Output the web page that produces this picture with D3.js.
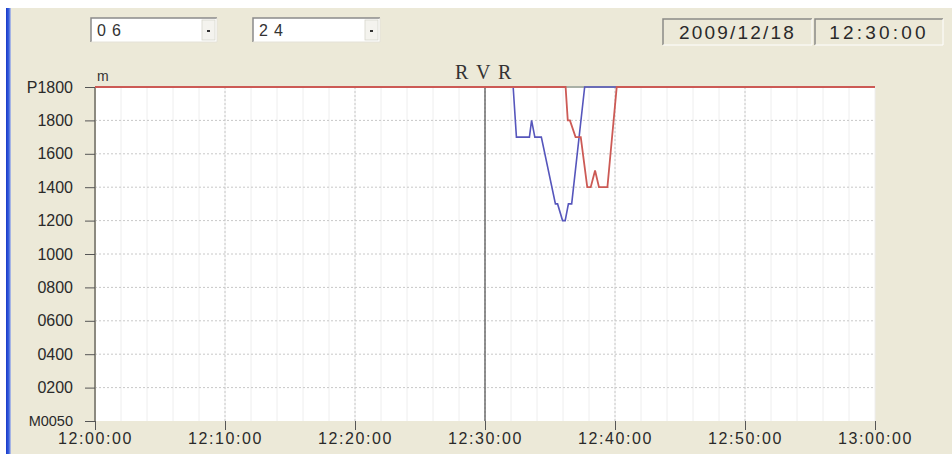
<!DOCTYPE html>
<html><head><meta charset="utf-8">
<script src="https://cdn.jsdelivr.net/npm/d3@7"></script>
<style>
html,body{margin:0;padding:0;background:#fff;}
svg{display:block;}
</style></head>
<body>
<svg id="chart" width="952" height="456"></svg>
<script>
// ---- data ----
const chartTitle = "R V R";
const unitLabel = "m";
const comboValues = ["06", "24"];
const dateText = "2009/12/18";
const clockText = "12:30:00";
const baseDate = "2009-12-18";
const markerTime = "12:30:00";

const yTickValues = [0, 200, 400, 600, 800, 1000, 1200, 1400, 1600, 1800, 2000];
const yTickLabels = ["M0050", "0200", "0400", "0600", "0800", "1000", "1200", "1400", "1600", "1800", "P1800"];
const xTickTimes = ["12:00:00", "12:10:00", "12:20:00", "12:30:00", "12:40:00", "12:50:00", "13:00:00"];
const xTickLabels = ["12:00:00", "12:10:00", "12:20:00", "12:30:00", "12:40:00", "12:50:00", "13:00:00"];

const blueTimes = ["12:00:00","12:32:10","12:32:25","12:33:25","12:33:35","12:33:50","12:34:20","12:35:25","12:35:35","12:35:58","12:36:10","12:36:25","12:36:40","12:37:40","13:00:00"];
const blueValues = [2000, 2000, 1700, 1700, 1800, 1700, 1700, 1300, 1300, 1200, 1200, 1300, 1300, 2000, 2000];

const redTimes = ["12:00:00","12:36:12","12:36:22","12:36:32","12:36:58","12:37:22","12:37:52","12:38:08","12:38:28","12:38:46","12:39:25","12:40:08","13:00:00"];
const redValues = [2000, 2000, 1800, 1800, 1700, 1700, 1400, 1400, 1500, 1400, 1400, 2000, 2000];

// ---- helpers ----
const parseT = t => new Date(baseDate + "T" + t);
const svg = d3.select("#chart");
const W = 952, H = 456;
const plot = {left: 95, right: 875, top: 87, bottom: 421};

const x = d3.scaleTime()
  .domain([parseT(xTickTimes[0]), parseT(xTickTimes[xTickTimes.length - 1])])
  .range([plot.left, plot.right]);
const y = d3.scaleLinear().domain([0, 2000]).range([plot.bottom, plot.top]);

// ---- frame ----
const defs = svg.append("defs");
const g1 = defs.append("linearGradient").attr("id", "edge").attr("x1", "0").attr("x2", "1");
g1.append("stop").attr("offset", "0").attr("stop-color", "#1737c8");
g1.append("stop").attr("offset", "0.6").attr("stop-color", "#3c64e0");
g1.append("stop").attr("offset", "1").attr("stop-color", "#c9cfe6");

svg.append("rect").attr("x", 0).attr("y", 0).attr("width", W).attr("height", H).attr("fill", "#ffffff");
svg.append("rect").attr("x", 7).attr("y", 8).attr("width", W - 7).attr("height", H - 10).attr("fill", "#ece9d8");
svg.append("rect").attr("x", 6).attr("y", 8).attr("width", 5).attr("height", H - 10).attr("fill", "url(#edge)");

// ---- header controls ----
function combo(x0, w, text) {
  const g = svg.append("g");
  g.append("rect").attr("x", x0).attr("y", 18).attr("width", w).attr("height", 24).attr("fill", "#ffffff");
  g.append("path").attr("d", `M${x0},42 V18 H${x0 + w}`).attr("fill", "none").attr("stroke", "#8a8a8a").attr("stroke-width", 1.5);
  g.append("path").attr("d", `M${x0 + w},18 V42 H${x0}`).attr("fill", "none").attr("stroke", "#e4e2d8").attr("stroke-width", 1);
  g.append("rect").attr("x", x0 + w - 15).attr("y", 20).attr("width", 13).attr("height", 20).attr("fill", "#f4f3ee").attr("stroke", "#d8d6cc").attr("stroke-width", 0.8);
  g.append("rect").attr("x", x0 + w - 10).attr("y", 30).attr("width", 3).attr("height", 2).attr("fill", "#333");
  g.append("text").attr("x", x0 + 6).attr("y", 36).attr("font-family", "Liberation Sans, Arial, sans-serif")
    .attr("font-size", 16).attr("letter-spacing", 6).attr("fill", "#333").text(text);
}
combo(91, 126, comboValues[0]);
combo(253, 127, comboValues[1]);

function infoBox(x0, w, text, ls) {
  const g = svg.append("g");
  g.append("rect").attr("x", x0).attr("y", 19).attr("width", w).attr("height", 26).attr("fill", "#ece9d8");
  g.append("path").attr("d", `M${x0},45 V19 H${x0 + w}`).attr("fill", "none").attr("stroke", "#8a8a86").attr("stroke-width", 1.5);
  g.append("path").attr("d", `M${x0 + w},19 V45 H${x0}`).attr("fill", "none").attr("stroke", "#ffffff").attr("stroke-width", 1);
  g.append("text").attr("x", x0 + w / 2).attr("y", 38.5).attr("text-anchor", "middle")
    .attr("font-family", "Liberation Sans, Arial, sans-serif").attr("font-size", 19)
    .attr("letter-spacing", ls).attr("fill", "#2a2a2a").text(text);
}
infoBox(663, 149, dateText, 2.2);
infoBox(815, 128, clockText, 3.2);

// ---- plot area ----
svg.append("rect").attr("x", plot.left).attr("y", plot.top).attr("width", plot.right - plot.left)
  .attr("height", plot.bottom - plot.top).attr("fill", "#ffffff");

// minor vertical grid every 2 minutes
const minorTicks = x.ticks(d3.timeMinute.every(2));
svg.append("g").selectAll("line").data(minorTicks).join("line")
  .attr("x1", d => x(d)).attr("x2", d => x(d)).attr("y1", plot.top).attr("y2", plot.bottom)
  .attr("stroke", "#eeeeee").attr("stroke-width", 1);

// major vertical grid
const majorTicks = xTickTimes.map(parseT);
svg.append("g").selectAll("line").data(majorTicks.slice(1, -1)).join("line")
  .attr("x1", d => x(d)).attr("x2", d => x(d)).attr("y1", plot.top).attr("y2", plot.bottom)
  .attr("stroke", "#c8c8c8").attr("stroke-width", 1).attr("stroke-dasharray", "2,2");

// horizontal grid
svg.append("g").selectAll("line").data(yTickValues.slice(1, -1)).join("line")
  .attr("x1", plot.left).attr("x2", plot.right).attr("y1", d => y(d)).attr("y2", d => y(d))
  .attr("stroke", "#c8c8c8").attr("stroke-width", 1).attr("stroke-dasharray", "2,2");

// top border
svg.append("line").attr("x1", plot.left).attr("x2", plot.right).attr("y1", plot.top).attr("y2", plot.top)
  .attr("stroke", "#a9b0a6").attr("stroke-width", 2);

// ---- axes ----
const yAxis = d3.axisLeft(y).tickValues(yTickValues)
  .tickFormat((d, i) => yTickLabels[i]).tickSize(10).tickPadding(12);
const ya = svg.append("g").attr("transform", `translate(${plot.left},0)`).call(yAxis);
ya.select(".domain").attr("stroke", "#8c8a80").attr("stroke-width", 2).attr("d", `M0,${plot.top}V${plot.bottom}`);
ya.selectAll(".tick line").attr("stroke", "#555");
ya.selectAll(".tick text").attr("font-family", "Liberation Sans, Arial, sans-serif").attr("font-size", 16).attr("fill", "#2a2a2a");
ya.selectAll(".tick text").filter((d, i) => i === 0).attr("font-size", 14.5);

const xAxis = d3.axisBottom(x).tickValues(majorTicks)
  .tickFormat((d, i) => xTickLabels[i]).tickSize(9).tickPadding(3);
const xa = svg.append("g").attr("transform", `translate(0,${plot.bottom})`).call(xAxis);
xa.select(".domain").remove();
xa.selectAll(".tick line").attr("stroke", "#555");
xa.selectAll(".tick text").attr("font-family", "Liberation Sans, Arial, sans-serif").attr("font-size", 16)
  .attr("letter-spacing", 1.6).attr("fill", "#2a2a2a");

// ---- marker line ----
svg.append("line").attr("x1", x(parseT(markerTime))).attr("x2", x(parseT(markerTime)))
  .attr("y1", plot.top).attr("y2", plot.bottom).attr("stroke", "#505050").attr("stroke-width", 1.2);

// ---- series ----
const line = d3.line().x(d => x(d[0])).y(d => y(d[1]));
const blueData = blueTimes.map((t, i) => [parseT(t), blueValues[i]]);
const redData = redTimes.map((t, i) => [parseT(t), redValues[i]]);
svg.append("path").datum(blueData).attr("d", line).attr("fill", "none")
  .attr("stroke", "#5656bc").attr("stroke-width", 1.6);
svg.append("path").datum(redData).attr("d", line).attr("fill", "none")
  .attr("stroke", "#cc5a55").attr("stroke-width", 1.8);

// ---- titles ----
svg.append("text").attr("x", 484).attr("y", 79).attr("text-anchor", "middle")
  .attr("font-family", "Liberation Serif, DejaVu Serif, serif").attr("font-size", 20)
  .attr("letter-spacing", 1.5).attr("fill", "#333").text(chartTitle);
svg.append("text").attr("x", 97).attr("y", 81).attr("font-family", "Liberation Sans, Arial, sans-serif")
  .attr("font-size", 14).attr("fill", "#333").text(unitLabel);
</script>
</body></html>
